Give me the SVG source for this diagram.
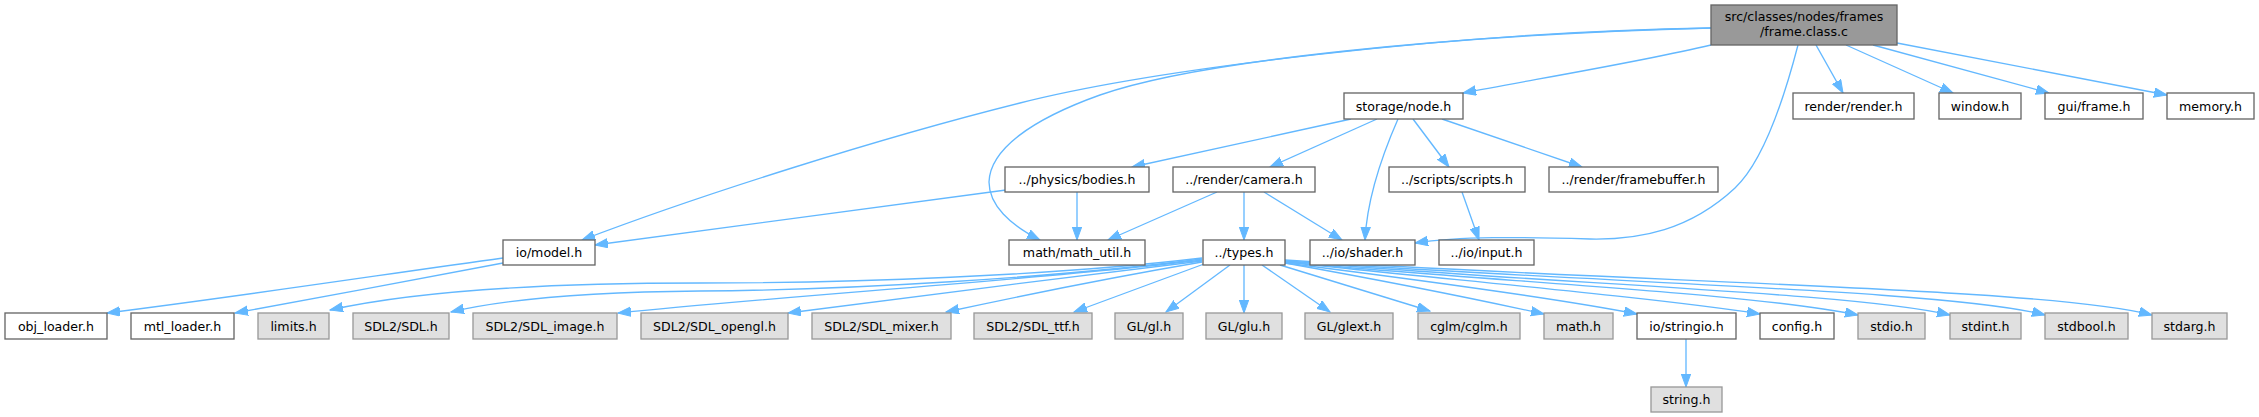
<svg xmlns="http://www.w3.org/2000/svg" width="2259" height="417" viewBox="0 0 2259 417">
<style>
text{font-family:"DejaVu Sans","Liberation Sans",sans-serif;font-size:12.6px;text-anchor:middle;fill:#000}
.w{fill:#fff;stroke:#666;stroke-width:1.33}
.g{fill:#e0e0e0;stroke:#999;stroke-width:1.33}
.r{fill:#999;stroke:#666;stroke-width:1.33}
#edges path{fill:none;stroke:#63b8ff;stroke-width:1.33;marker-end:url(#a)}
</style>
<defs>
<marker id="a" markerUnits="userSpaceOnUse" markerWidth="14" markerHeight="11" refX="13" refY="5" orient="auto">
<path d="M0,0.3 L13,5 L0,9.7 z" fill="#63b8ff" stroke="#63b8ff" stroke-width="1"/>
</marker>
</defs>
<rect width="2259" height="417" fill="#fff"/>
<g id="edges">
<path d="M1711,28 C1450,32 1150,70 1020,103 C880,138 700,195 582,240"/>
<path d="M1711,28 C1450,35 1200,60 1100,95 C1030,120 990,150 989,182 C989,205 1010,225 1040,240"/>
<path d="M1711,45 C1640,62 1530,80 1463,93"/>
<path d="M1798,45 C1785,95 1765,160 1735,188 C1690,230 1640,240 1590,239 C1520,237 1460,236 1415,243"/>
<path d="M1816,45 L1843,93"/>
<path d="M1846,45 L1953,93"/>
<path d="M1873,45 L2049,93"/>
<path d="M1897,43 L2167,95"/>
<path d="M1351,119 L1132,167"/>
<path d="M1377,119 L1270,167"/>
<path d="M1398,119 C1380,160 1367,200 1365,240"/>
<path d="M1413,119 L1449,167"/>
<path d="M1442,119 L1582,167"/>
<path d="M1006,190 C900,205 700,230 595,245"/>
<path d="M1077,192 L1077,240"/>
<path d="M1217,192 L1108,240"/>
<path d="M1244,192 L1244,240"/>
<path d="M1264,192 L1342,240"/>
<path d="M1462,192 L1479,240"/>
<path d="M503,258 C400,272 250,295 107,313"/>
<path d="M503,263 C420,278 320,298 235,313"/>
<path d="M1202,258 C1050,276 850,283 700,283 C550,283 420,290 330,310"/>
<path d="M1202,259 C1050,278 850,290 700,291 C600,292 510,298 451,312"/>
<path d="M1202,260 C1050,279 780,296 618,313"/>
<path d="M1202,261 C1080,276 900,298 788,313"/>
<path d="M1202,262 C1120,276 1020,296 946,312"/>
<path d="M1204,264 L1074,312"/>
<path d="M1230,265 L1166,312"/>
<path d="M1244,265 L1244,313"/>
<path d="M1262,265 L1330,312"/>
<path d="M1280,265 L1430,311"/>
<path d="M1285,263 C1380,280 1480,300 1544,314"/>
<path d="M1285,263 C1420,280 1550,297 1637,314"/>
<path d="M1285,262 C1450,280 1650,297 1760,314"/>
<path d="M1285,262 C1500,282 1750,293 1858,315"/>
<path d="M1285,261 C1550,284 1850,292 1950,315"/>
<path d="M1285,261 C1600,283 1950,290 2045,315"/>
<path d="M1285,260 C1650,283 2050,288 2152,315"/>
<path d="M1686,339 L1686,387"/>
</g>
<g id="n_frame"><rect class="r" x="1711" y="5" width="186" height="40"/><text x="1804" y="21">src/classes/nodes/frames</text><text x="1804" y="36">/frame.class.c</text></g>
<g id="n_node"><rect class="w" x="1344" y="93" width="119" height="26"/><text x="1403.5" y="110.5">storage/node.h</text></g>
<g id="n_render"><rect class="w" x="1793" y="93" width="121" height="26"/><text x="1853.5" y="110.5">render/render.h</text></g>
<g id="n_window"><rect class="w" x="1939" y="93" width="82" height="26"/><text x="1980" y="110.5">window.h</text></g>
<g id="n_guiframe"><rect class="w" x="2045" y="93" width="98" height="26"/><text x="2094" y="110.5">gui/frame.h</text></g>
<g id="n_memory"><rect class="w" x="2167" y="93" width="87" height="26"/><text x="2210.5" y="110.5">memory.h</text></g>
<g id="n_bodies"><rect class="w" x="1005" y="167" width="144" height="25"/><text x="1077" y="184">../physics/bodies.h</text></g>
<g id="n_camera"><rect class="w" x="1173" y="167" width="142" height="25"/><text x="1244" y="184">../render/camera.h</text></g>
<g id="n_scripts"><rect class="w" x="1389" y="167" width="136" height="25"/><text x="1457" y="184">../scripts/scripts.h</text></g>
<g id="n_framebuffer"><rect class="w" x="1549" y="167" width="169" height="25"/><text x="1633.5" y="184">../render/framebuffer.h</text></g>
<g id="n_model"><rect class="w" x="503" y="240" width="92" height="25"/><text x="549" y="257">io/model.h</text></g>
<g id="n_mathutil"><rect class="w" x="1009" y="240" width="136" height="25"/><text x="1077" y="257">math/math_util.h</text></g>
<g id="n_types"><rect class="w" x="1203" y="240" width="82" height="25"/><text x="1244" y="257">../types.h</text></g>
<g id="n_shader"><rect class="w" x="1310" y="240" width="105" height="25"/><text x="1362.5" y="257">../io/shader.h</text></g>
<g id="n_input"><rect class="w" x="1439" y="240" width="95" height="25"/><text x="1486.5" y="257">../io/input.h</text></g>
<g id="n_obj"><rect class="w" x="5" y="313" width="102" height="26"/><text x="56" y="330.5">obj_loader.h</text></g>
<g id="n_mtl"><rect class="w" x="131" y="313" width="103" height="26"/><text x="182.5" y="330.5">mtl_loader.h</text></g>
<g id="n_limits"><rect class="g" x="258" y="313" width="71" height="26"/><text x="293.5" y="330.5">limits.h</text></g>
<g id="n_sdl"><rect class="g" x="353" y="313" width="96" height="26"/><text x="401" y="330.5">SDL2/SDL.h</text></g>
<g id="n_sdlimage"><rect class="g" x="473" y="313" width="144" height="26"/><text x="545" y="330.5">SDL2/SDL_image.h</text></g>
<g id="n_sdlopengl"><rect class="g" x="641" y="313" width="147" height="26"/><text x="714.5" y="330.5">SDL2/SDL_opengl.h</text></g>
<g id="n_sdlmixer"><rect class="g" x="812" y="313" width="139" height="26"/><text x="881.5" y="330.5">SDL2/SDL_mixer.h</text></g>
<g id="n_sdlttf"><rect class="g" x="974" y="313" width="118" height="26"/><text x="1033" y="330.5">SDL2/SDL_ttf.h</text></g>
<g id="n_gl"><rect class="g" x="1115" y="313" width="68" height="26"/><text x="1149" y="330.5">GL/gl.h</text></g>
<g id="n_glu"><rect class="g" x="1206" y="313" width="76" height="26"/><text x="1244" y="330.5">GL/glu.h</text></g>
<g id="n_glext"><rect class="g" x="1305" y="313" width="88" height="26"/><text x="1349" y="330.5">GL/glext.h</text></g>
<g id="n_cglm"><rect class="g" x="1418" y="313" width="102" height="26"/><text x="1469" y="330.5">cglm/cglm.h</text></g>
<g id="n_math"><rect class="g" x="1544" y="313" width="69" height="26"/><text x="1578.5" y="330.5">math.h</text></g>
<g id="n_stringio"><rect class="w" x="1637" y="313" width="99" height="26"/><text x="1686.5" y="330.5">io/stringio.h</text></g>
<g id="n_config"><rect class="w" x="1760" y="313" width="74" height="26"/><text x="1797" y="330.5">config.h</text></g>
<g id="n_stdio"><rect class="g" x="1858" y="313" width="67" height="26"/><text x="1891.5" y="330.5">stdio.h</text></g>
<g id="n_stdint"><rect class="g" x="1950" y="313" width="71" height="26"/><text x="1985.5" y="330.5">stdint.h</text></g>
<g id="n_stdbool"><rect class="g" x="2045" y="313" width="83" height="26"/><text x="2086.5" y="330.5">stdbool.h</text></g>
<g id="n_stdarg"><rect class="g" x="2152" y="313" width="75" height="26"/><text x="2189.5" y="330.5">stdarg.h</text></g>
<g id="n_string"><rect class="g" x="1651" y="387" width="71" height="25"/><text x="1686.5" y="404">string.h</text></g>
</svg>
